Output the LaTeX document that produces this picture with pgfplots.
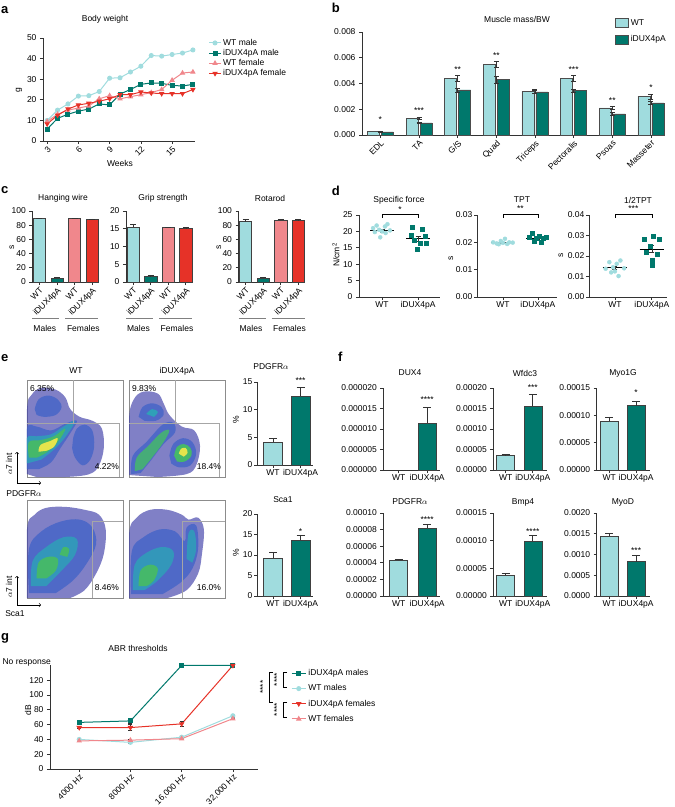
\documentclass[border=0pt]{standalone}
\usepackage{fontspec}
\setmainfont{Liberation Sans}
\usepackage{pgfplots}
\pgfplotsset{compat=1.18}

\definecolor{wtc}{HTML}{A0DCDE}
\definecolor{dxc}{HTML}{00786C}
\definecolor{wtf}{HTML}{F0878C}
\definecolor{dxf}{HTML}{E63228}
\definecolor{axc}{HTML}{333333}
\definecolor{d1}{HTML}{3C3CA8}
\definecolor{d2}{HTML}{3F62C8}
\definecolor{d3}{HTML}{2FA0B8}
\definecolor{d4}{HTML}{45B86A}
\definecolor{d5}{HTML}{E4E44C}

\newcommand{\fs}{\fontsize{8.5}{10}\selectfont}
\tikzset{star/.style={font=\fs, inner sep=0pt}}

\pgfplotsset{
  prism/.style={scale only axis, anchor=south west, clip=false,
    axis lines*=left, tick align=outside, major tick length=3pt,
    axis line style={line width=0.7pt, draw=axc},
    every tick/.style={line width=0.7pt, draw=axc},
    tick label style={font=\fs},
    /pgf/number format/assume math mode=true,
    scaled y ticks=false},
  yfix/.style={yticklabel style={/pgf/number format/fixed, /pgf/number format/fixed zerofill, /pgf/number format/precision=#1}},
  ysep/.style={yticklabel style={/tikz/inner sep=#1}},
  twobar/.style={xtick={0,1}, xticklabels={WT,iDUX4pA}, x tick label style={inner sep=1.5pt}},
  bar/.style={ybar, bar shift=0pt, bar width=#1, draw=black!75, line width=0.5pt},
  eb/.style={error bars/.cd, y dir=plus, y explicit,
    error bar style={line width=0.6pt, black!80},
    error mark options={rotate=90, mark size=#1, line width=0.6pt, black!80}},
  ebb/.style={error bars/.cd, y dir=both, y explicit,
    error bar style={line width=0.6pt, black!80},
    error mark options={rotate=90, mark size=#1, line width=0.6pt, black!80}},
  flow/.style={scale only axis, anchor=south west, xmin=0, xmax=100, ymin=0, ymax=100,
    xtick=\empty, ytick=\empty, axis line style={draw=black!45, line width=0.9pt}},
  gate/.style={draw=black!35, line width=0.6pt, mark=none},
  blob/.style={draw=none, fill=#1, mark=none, smooth, tension=0.6},
}

\begin{document}
\begin{tikzpicture}[font=\fs]
\useasboundingbox (0,0) rectangle (675pt,-807pt);

\foreach \l/\x/\y in {a/1/13, b/331.7/12.7, c/1/193.3, d/331.7/195, e/1/361.7, f/338/361.7, g/1/640.7}
  \node[anchor=base west, inner sep=0pt, font=\fontsize{13}{13}\selectfont\bfseries] at (\x pt,-\y pt) {\l};

% ---------------- a
\node at (105pt,-19pt) {Body weight};
\node[rotate=90] at (19pt,-90pt) {g};
\node at (120pt,-163pt) {Weeks};
\begin{axis}[prism, at={(43pt,-141pt)}, width=152pt, height=103pt,
  xmin=2.6, xmax=17.2, ymin=0, ymax=50, xtick={3,6,9,12,15}, ytick={0,10,...,50},
  x tick label style={rotate=45, anchor=north east, inner sep=1pt},
  legend style={at={(1.07,1.03)}, anchor=north west, draw=none, fill=none, font=\fs, row sep=-1.5pt},
  legend cell align=left,
  legend image code/.code={\draw[mark repeat=2,mark phase=2] plot coordinates {(0cm,0cm) (0.2cm,0cm) (0.4cm,0cm)};}]
\addplot[wtc, line width=1pt, mark=*, mark size=2pt] coordinates {
 (3,10) (4,15) (5,18) (6,21.8) (7,22) (8,24) (9,30.5) (10,30.7) (11,33.5) (12,36.3)
 (13,41.5) (14,41.2) (15,42) (16,42.7) (17,44.2)};
\addplot[dxc, line width=1pt, mark=square*, mark size=2pt] coordinates {
 (3,5.8) (4,11) (5,13) (6,14.5) (7,15.5) (8,18) (9,17.5) (10,22.8) (11,25) (12,27.5)
 (13,28.2) (14,28) (15,27) (16,26.7) (17,27.5)};
\addplot[wtf, line width=1pt, mark=triangle*, mark size=2.2pt] coordinates {
 (3,9.5) (4,13) (5,15) (6,16) (7,17) (8,20.5) (9,22) (10,20.5) (11,21.5) (12,22.5)
 (13,23.5) (14,25) (15,29.5) (16,33) (17,33.5)};
\addplot[dxf, line width=1pt, mark=triangle*, mark size=2.2pt, mark options={rotate=180}] coordinates {
 (3,8.3) (4,12.5) (5,15.5) (6,17.5) (7,18.3) (8,19.3) (9,20.5) (10,22.5) (11,22.5) (12,23.8)
 (13,23.3) (14,23) (15,23) (16,23) (17,25)};
\legend{WT male, iDUX4pA male, WT female, iDUX4pA female}
\end{axis}

% ---------------- b
\node at (517pt,-19pt) {Muscle mass/BW};
\begin{axis}[prism, at={(362pt,-135pt)}, width=301.3pt, height=103pt,
  xmin=-0.476, xmax=7.32, ymin=0, ymax=0.008, ytick={0,0.002,0.004,0.006,0.008}, yfix=3,
  xtick={0,...,7}, xticklabels={EDL,TA,G/S,Quad,Triceps,Pectoralis,Psoas,Masseter},
  x tick label style={rotate=45, anchor=north east, inner sep=1pt},
  legend style={at={(0.83,1.165)}, anchor=north west, draw=none, fill=none, font=\fs, row sep=5pt},
  legend cell align=left,
  legend image code/.code={\draw[#1] (0pt,-4.5pt) rectangle (13pt,4.5pt);}]
\addplot[ybar, bar shift=-7pt, bar width=12pt, fill=wtc, draw=black!70, line width=0.5pt, ebb=2.5pt] coordinates {
 (0,0.0003) +- (0,0.00002) (1,0.0013) +- (0,0.00005) (2,0.0044) +- (0,0.00025) (3,0.0055) +- (0,0.00022)
 (4,0.0034) +- (0,0.00017) (5,0.0044) +- (0,0.0002) (6,0.0021) +- (0,0.0001) (7,0.0030) +- (0,0.0002)};
\addplot[ybar, bar shift=7pt, bar width=12pt, fill=dxc, draw=black!70, line width=0.5pt, ebb=2.5pt] coordinates {
 (0,0.00025) +- (0,0.00002) (1,0.00095) +- (0,0.00004) (2,0.0035) +- (0,0.00015) (3,0.0043) +- (0,0.00025)
 (4,0.00335) +- (0,0.0001) (5,0.00345) +- (0,0.00012) (6,0.00165) +- (0,0.00013) (7,0.0025) +- (0,0.0001)};
\legend{WT, iDUX4pA}
\node[star] at (axis cs:0,0.0012) {*};
\node[star] at (axis cs:1,0.0019) {***};
\node[star] at (axis cs:2,0.0051) {**};
\node[star] at (axis cs:3,0.0062) {**};
\node[star] at (axis cs:5,0.0051) {***};
\node[star] at (axis cs:6,0.0027) {**};
\node[star] at (axis cs:7,0.0037) {*};
\end{axis}

% ---------------- c
\node at (63pt,-198pt) {Hanging wire};
\node at (163pt,-198pt) {Grip strength};
\node at (270pt,-198pt) {Rotarod};
\node[rotate=90] at (12pt,-247pt) {s};
\node[rotate=90] at (219pt,-247pt) {s};
\foreach \ox in {32.3,126,238.5}{
  \draw[black!50, line width=0.8pt] (\ox pt,-318pt) -- (\ox pt+27pt,-318pt);
  \draw[black!50, line width=0.8pt] (\ox pt+33pt,-318pt) -- (\ox pt+66pt,-318pt);
  \node at (\ox pt+12.5pt,-328pt) {Males};
  \node at (\ox pt+51pt,-328pt) {Females};
}
\pgfplotsset{cbars/.style={prism, width=66pt, height=71pt, xmin=-0.4, xmax=3.35, ymin=0,
  xtick={0,1,2,3}, xticklabels={WT,iDUX4pA,WT,iDUX4pA},
  x tick label style={rotate=45, anchor=north east, inner sep=1pt}}}
\begin{axis}[cbars, at={(32.3pt,-282pt)}, ymax=100, ytick={0,20,...,100}]
\addplot[bar=12.3pt, fill=wtc, eb=3pt] coordinates {(0,90) +- (0,0)};
\addplot[bar=12.3pt, fill=dxc, eb=3pt] coordinates {(1,5) +- (0,1.5)};
\addplot[bar=12.3pt, fill=wtf, eb=3pt] coordinates {(2,90) +- (0,0)};
\addplot[bar=12.3pt, fill=dxf, eb=3pt] coordinates {(3,88) +- (0,1)};
\end{axis}
\begin{axis}[cbars, at={(126pt,-282pt)}, ymax=20, ytick={0,5,...,20}]
\addplot[bar=12.3pt, fill=wtc, eb=3pt] coordinates {(0,15.5) +- (0,0.7)};
\addplot[bar=12.3pt, fill=dxc, eb=3pt] coordinates {(1,1.5) +- (0,0.5)};
\addplot[bar=12.3pt, fill=wtf, eb=3pt] coordinates {(2,15.3) +- (0,0.1)};
\addplot[bar=12.3pt, fill=dxf, eb=3pt] coordinates {(3,15.2) +- (0,0.1)};
\end{axis}
\begin{axis}[cbars, at={(238.5pt,-282pt)}, ymax=100, ytick={0,20,...,100}]
\addplot[bar=12.3pt, fill=wtc, eb=3pt] coordinates {(0,85) +- (0,3)};
\addplot[bar=12.3pt, fill=dxc, eb=3pt] coordinates {(1,5) +- (0,1.5)};
\addplot[bar=12.3pt, fill=wtf, eb=3pt] coordinates {(2,87.5) +- (0,1)};
\addplot[bar=12.3pt, fill=dxf, eb=3pt] coordinates {(3,86.5) +- (0,1.5)};
\end{axis}

% ---------------- d
\node at (399pt,-200pt) {Specific force};
\node at (522pt,-200pt) {TPT};
\node at (638pt,-200pt) {1/2TPT};
\node[rotate=90] at (336pt,-255pt) {N/cm\textsuperscript{2}};
\node[rotate=90] at (451pt,-258pt) {s};
\node[rotate=90] at (561pt,-255pt) {s};
\begin{axis}[prism, twobar, at={(359pt,-297pt)}, width=81pt, height=82pt,
  xmin=-0.64, xmax=1.61, ymin=0, ymax=25, ytick={0,5,...,25}]
\addplot[only marks, mark=*, mark size=2pt, wtc] coordinates {
 (-0.25,21.0) (-0.15,21.8) (-0.08,20.5) (0,20.0) (0.08,21.5) (0.15,22.2) (0.22,20.3) (-0.2,19.8) (0.1,19.5) (-0.05,18.2)};
\addplot[only marks, mark=square*, mark size=2pt, dxc] coordinates {
 (0.85,21.3) (1.12,20.8) (0.8,18.8) (1.2,18.5) (0.9,17.3) (1.05,16.3) (1.22,16.3) (0.98,14.5)};
\addplot[black, line width=0.8pt, mark=none] coordinates {(-0.33,20.2) (0.33,20.2)};
\addplot[black, line width=0.8pt, mark=none] coordinates {(0.67,17.8) (1.33,17.8)};
\addplot[mark=none, ebb=2.5pt] coordinates {(0,20.2) +- (0,0.4)};
\addplot[mark=none, ebb=2.5pt] coordinates {(1,17.8) +- (0,0.8)};
\addplot[black, line width=0.6pt, mark=none] coordinates {(0,24.2) (0,25.3) (1,25.3) (1,24.2)};
\node[star] at (axis cs:0.5,26.8) {*};
\end{axis}
\begin{axis}[prism, twobar, at={(477pt,-297pt)}, width=79.8pt, height=82pt,
  xmin=-0.74, xmax=1.54, ymin=0, ymax=0.03, ytick={0,0.01,0.02,0.03}, yfix=2, ysep=1.5pt]
\addplot[only marks, mark=*, mark size=2pt, wtc] coordinates {
 (-0.28,0.0200) (-0.18,0.0196) (-0.06,0.0205) (0.06,0.0213) (0.18,0.0200) (0.28,0.0199) (-0.12,0.0193) (0.12,0.0194) (0,0.0198)};
\addplot[only marks, mark=square*, mark size=2pt, dxc] coordinates {
 (0.75,0.0218) (0.85,0.0232) (0.95,0.0214) (1.05,0.0222) (1.15,0.0216) (1.25,0.0219) (0.9,0.0205) (1.1,0.0200)};
\addplot[black, line width=0.8pt, mark=none] coordinates {(-0.33,0.0199) (0.33,0.0199)};
\addplot[black, line width=0.8pt, mark=none] coordinates {(0.67,0.0216) (1.33,0.0216)};
\addplot[mark=none, ebb=2.5pt] coordinates {(0,0.0199) +- (0,0.0002)};
\addplot[mark=none, ebb=2.5pt] coordinates {(1,0.0216) +- (0,0.0004)};
\addplot[black, line width=0.6pt, mark=none] coordinates {(0,0.029) (0,0.0304) (1,0.0304) (1,0.029)};
\node[star] at (axis cs:0.5,0.0322) {**};
\end{axis}
\begin{axis}[prism, twobar, at={(589pt,-297pt)}, width=78pt, height=82pt,
  xmin=-0.7, xmax=1.41, ymin=0, ymax=0.04, ytick={0,0.01,0.02,0.03,0.04}, yfix=2, ysep=1.5pt]
\addplot[only marks, mark=*, mark size=2pt, wtc] coordinates {
 (-0.25,0.0138) (-0.15,0.0170) (-0.05,0.0145) (0.05,0.0162) (0.15,0.0178) (0.25,0.0140) (-0.1,0.0120) (0.1,0.0102) (0,0.0125)};
\addplot[only marks, mark=square*, mark size=2pt, dxc] coordinates {
 (0.8,0.0282) (1.05,0.0295) (1.2,0.0283) (0.95,0.0250) (0.85,0.0218) (1.15,0.0210) (1.0,0.0180) (1.0,0.0155)};
\addplot[black, line width=0.8pt, mark=none] coordinates {(-0.33,0.0142) (0.33,0.0142)};
\addplot[black, line width=0.8pt, mark=none] coordinates {(0.67,0.0233) (1.33,0.0233)};
\addplot[mark=none, ebb=2.5pt] coordinates {(0,0.0142) +- (0,0.0009)};
\addplot[mark=none, ebb=2.5pt] coordinates {(1,0.0233) +- (0,0.0017)};
\addplot[black, line width=0.6pt, mark=none] coordinates {(0,0.0387) (0,0.0405) (1,0.0405) (1,0.0387)};
\node[star] at (axis cs:0.5,0.0429) {***};
\end{axis}

% ---------------- e (flow)
\node at (76pt,-371pt) {WT};
\node at (177pt,-371pt) {iDUX4pA};
\draw[->, line width=0.6pt] (17pt,-483pt) -- (17pt,-452pt);
\draw[->, line width=0.6pt] (17pt,-483pt) -- (41pt,-483pt);
\node[rotate=90] at (9pt,-464pt) {$\alpha$7 int};
\node at (24pt,-494pt) {PDGFR$\alpha$};
\draw[->, line width=0.6pt] (17pt,-605pt) -- (17pt,-576pt);
\draw[->, line width=0.6pt] (17pt,-605pt) -- (41pt,-605pt);
\node[rotate=90] at (9pt,-587pt) {$\alpha$7 int};
\node at (15pt,-614pt) {Sca1};

\begin{axis}[flow, at={(27pt,-477pt)}, width=96pt, height=97pt]
\addplot[blob=d1, fill opacity=0.65] coordinates {(0,3) (0,70) (5,85) (15,92) (30,90) (40,82) (45,70) (55,62) (68,58) (78,50) (80,30) (75,12) (65,3) (40,0) (10,0)} -- cycle;
\addplot[blob=d2, fill opacity=0.75] coordinates {(8,70) (12,80) (22,84) (32,80) (36,72) (30,64) (18,62) (10,64)} -- cycle;
\addplot[blob=d2, fill opacity=0.75] coordinates {(48,40) (52,50) (60,54) (68,48) (70,32) (66,18) (58,12) (50,20) (47,30)} -- cycle;
\addplot[blob=d2, fill opacity=0.75] coordinates {(0,8) (0,50) (10,52) (25,48) (40,55) (52,58) (45,45) (35,30) (25,15) (12,8)} -- cycle;
\addplot[blob=d3, fill opacity=0.85] coordinates {(0,14) (0,40) (10,42) (25,44) (38,52) (50,58) (42,44) (30,30) (15,18)} -- cycle;
\addplot[blob=d4] coordinates {(2,20) (2,36) (14,38) (28,42) (40,50) (32,36) (20,25) (10,20)} -- cycle;
\addplot[blob=d5] coordinates {(12,26) (14,33) (24,37) (32,40) (28,31) (20,27)} -- cycle;
\addplot[gate] coordinates {(0,55) (48,55) (48,100)};
\addplot[gate] coordinates {(48,55) (96,55) (96,0)};
\node[anchor=west, inner sep=0pt] at (axis cs:3,91) {6.35\%};
\node[anchor=east, inner sep=0pt] at (axis cs:96,11) {4.22\%};
\end{axis}
\begin{axis}[flow, at={(129pt,-477pt)}, width=96pt, height=97pt]
\addplot[blob=d1, fill opacity=0.65] coordinates {(0,2) (0,60) (5,80) (15,88) (30,86) (36,76) (42,64) (55,52) (68,48) (74,32) (70,12) (60,3) (30,0)} -- cycle;
\addplot[blob=d2, fill opacity=0.75] coordinates {(10,62) (14,72) (24,76) (34,72) (36,64) (28,58) (16,58)} -- cycle;
\addplot[blob=d3] coordinates {(18,65) (24,70) (30,67) (26,62)} -- cycle;
\addplot[blob=d2, fill opacity=0.75] coordinates {(2,3) (4,22) (18,36) (35,54) (46,56) (48,46) (36,34) (22,16) (12,4)} -- cycle;
\addplot[blob=d4, fill opacity=0.85] coordinates {(6,6) (8,20) (20,32) (34,46) (42,48) (36,36) (24,20) (14,8)} -- cycle;
\addplot[blob=d2, fill opacity=0.75] coordinates {(42,22) (46,34) (56,40) (66,36) (70,24) (64,12) (52,10) (44,14)} -- cycle;
\addplot[blob=d4] coordinates {(47,22) (50,31) (57,34) (64,30) (65,22) (58,16) (50,16)} -- cycle;
\addplot[blob=d5] coordinates {(52,24) (54,29) (59,30) (61,25) (57,21)} -- cycle;
\addplot[gate] coordinates {(0,55) (48,55) (48,100)};
\addplot[gate] coordinates {(48,55) (94,55) (94,0)};
\node[anchor=west, inner sep=0pt] at (axis cs:3,91) {9.83\%};
\node[anchor=east, inner sep=0pt] at (axis cs:96,11) {18.4\%};
\end{axis}
\begin{axis}[flow, at={(27pt,-598pt)}, width=96pt, height=98pt]
\addplot[blob=d1, fill opacity=0.65] coordinates {(0,0) (0,70) (8,85) (20,92) (40,93) (60,90) (75,85) (82,70) (80,45) (72,25) (60,8) (45,0)} -- cycle;
\addplot[blob=d2, fill opacity=0.75] coordinates {(2,5) (2,50) (15,68) (35,78) (55,80) (68,72) (72,55) (62,35) (48,18) (30,5)} -- cycle;
\addplot[blob=d3, fill opacity=0.85] coordinates {(4,12) (6,38) (20,52) (38,62) (52,60) (50,44) (36,28) (20,12)} -- cycle;
\addplot[blob=d4] coordinates {(10,20) (12,36) (22,42) (32,40) (30,28) (20,20)} -- cycle;
\addplot[blob=d4] coordinates {(34,44) (38,52) (44,50) (42,42)} -- cycle;
\addplot[gate] coordinates {(68,0) (68,78) (100,78)};
\node[anchor=east, inner sep=0pt] at (axis cs:96,11) {8.46\%};
\end{axis}
\begin{axis}[flow, at={(129pt,-598pt)}, width=96pt, height=98pt]
\addplot[blob=d1, fill opacity=0.65] coordinates {(0,0) (0,65) (8,82) (22,90) (40,90) (55,85) (62,80) (72,82) (78,70) (76,45) (72,25) (60,8) (40,0)} -- cycle;
\addplot[blob=d2, fill opacity=0.75] coordinates {(2,4) (3,48) (15,62) (32,70) (48,68) (58,58) (60,72) (70,74) (72,50) (66,30) (54,16) (35,4)} -- cycle;
\addplot[blob=d3, fill opacity=0.85] coordinates {(4,8) (6,34) (18,46) (34,52) (46,48) (44,34) (30,18) (16,8)} -- cycle;
\addplot[blob=d3, fill opacity=0.85] coordinates {(60,40) (62,66) (68,68) (70,50) (66,36)} -- cycle;
\addplot[blob=d4] coordinates {(10,12) (12,28) (22,34) (30,30) (26,18) (18,12)} -- cycle;
\addplot[gate] coordinates {(55,0) (55,78) (100,78)};
\node[anchor=east, inner sep=0pt] at (axis cs:96,11) {16.0\%};
\end{axis}

% ---------------- e (bars)
\node at (271pt,-367pt) {PDGFR$\alpha$};
\node at (283pt,-500pt) {Sca1};
\node[rotate=90] at (236pt,-420pt) {\%};
\node[rotate=90] at (236pt,-553pt) {\%};
\begin{axis}[prism, twobar, at={(257pt,-465pt)}, width=56pt, height=83pt,
  xmin=-0.58, xmax=1.45, ymin=0, ymax=15, ytick={0,5,10,15}, ysep=1.5pt]
\addplot[bar=19pt, fill=wtc, eb=4pt] coordinates {(0,4.2) +- (0,0.6)};
\addplot[bar=19pt, fill=dxc, eb=4pt] coordinates {(1,12.5) +- (0,1.5)};
\node[star] at (axis cs:1,15.2) {***};
\end{axis}
\begin{axis}[prism, twobar, at={(257pt,-596pt)}, width=56pt, height=82pt,
  xmin=-0.58, xmax=1.45, ymin=0, ymax=20, ytick={0,5,...,20}, ysep=1.5pt]
\addplot[bar=19pt, fill=wtc, eb=4pt] coordinates {(0,9.3) +- (0,1.4)};
\addplot[bar=19pt, fill=dxc, eb=4pt] coordinates {(1,13.7) +- (0,1.2)};
\node[star] at (axis cs:1,15.6) {*};
\end{axis}

% ---------------- f
\node at (410pt,-373pt) {DUX4};
\node at (525pt,-373pt) {Wfdc3};
\node at (623pt,-373pt) {Myo1G};
\node at (410pt,-502pt) {PDGFR$\alpha$};
\node at (523pt,-502pt) {Bmp4};
\node at (623pt,-502pt) {MyoD};
\begin{axis}[prism, twobar, at={(383.3pt,-470pt)}, width=57pt, height=82pt,
  xmin=-0.54, xmax=1.46, ymin=0, ymax=0.00002, ytick={0,0.000005,0.00001,0.000015,0.00002}, yfix=6]
\addplot[bar=18pt, fill=dxc, eb=4pt] coordinates {(1,0.0000115) +- (0,0.0000038)};
\node[star] at (axis cs:1,0.0000171) {****};
\end{axis}
\begin{axis}[prism, twobar, at={(493.3pt,-470pt)}, width=53.5pt, height=82pt,
  xmin=-0.46, xmax=1.52, ymin=0, ymax=0.0002, ytick={0,0.00005,0.0001,0.00015,0.0002}, yfix=5]
\addplot[bar=18pt, fill=wtc, eb=4pt] coordinates {(0,0.000035) +- (0,0.000003)};
\addplot[bar=18pt, fill=dxc, eb=4pt] coordinates {(1,0.000155) +- (0,0.00003)};
\node[star] at (axis cs:1,0.000202) {***};
\end{axis}
\begin{axis}[prism, twobar, at={(596.7pt,-470pt)}, width=53.5pt, height=82pt,
  xmin=-0.46, xmax=1.52, ymin=0, ymax=0.00015, ytick={0,0.00005,0.0001,0.00015}, yfix=5]
\addplot[bar=18pt, fill=wtc, eb=4pt] coordinates {(0,0.00009) +- (0,0.000007)};
\addplot[bar=18pt, fill=dxc, eb=4pt] coordinates {(1,0.000118) +- (0,0.000007)};
\node[star] at (axis cs:1,0.000141) {*};
\end{axis}
\begin{axis}[prism, twobar, at={(383.3pt,-596pt)}, width=57pt, height=83pt,
  xmin=-0.54, xmax=1.46, ymin=0, ymax=0.0001, ytick={0,0.00002,0.00004,0.00006,0.00008,0.0001}, yfix=5]
\addplot[bar=18pt, fill=wtc, eb=4pt] coordinates {(0,0.000043) +- (0,0.000001)};
\addplot[bar=18pt, fill=dxc, eb=4pt] coordinates {(1,0.000082) +- (0,0.000004)};
\node[star] at (axis cs:1,0.0000915) {****};
\end{axis}
\begin{axis}[prism, twobar, at={(493.3pt,-596pt)}, width=53.5pt, height=83pt,
  xmin=-0.46, xmax=1.52, ymin=0, ymax=0.00015, ytick={0,0.00005,0.0001,0.00015}, yfix=5]
\addplot[bar=18pt, fill=wtc, eb=4pt] coordinates {(0,0.000038) +- (0,0.000003)};
\addplot[bar=18pt, fill=dxc, eb=4pt] coordinates {(1,0.000099) +- (0,0.000011)};
\node[star] at (axis cs:1,0.000116) {****};
\end{axis}
\begin{axis}[prism, twobar, at={(596.7pt,-596pt)}, width=53.5pt, height=83pt,
  xmin=-0.46, xmax=1.52, ymin=0, ymax=0.002, ytick={0,0.0005,0.001,0.0015,0.002}, yfix=4]
\addplot[bar=18pt, fill=wtc, eb=4pt] coordinates {(0,0.00144) +- (0,0.00007)};
\addplot[bar=18pt, fill=dxc, eb=4pt] coordinates {(1,0.00083) +- (0,0.00014)};
\node[star] at (axis cs:1,0.0011) {***};
\end{axis}

% ---------------- g
\node at (138pt,-648pt) {ABR thresholds};
\node[anchor=east, inner sep=0pt] at (51pt,-662pt) {No response};
\node[rotate=90] at (28pt,-710pt) {dB};
\begin{axis}[prism, at={(50pt,-769pt)}, width=208pt, height=103.6pt,
  xmin=-0.57, xmax=3.49, ymin=0, ymax=140, ytick={0,20,...,120},
  xtick={0,1,2,3}, xticklabels={4000 Hz,8000 Hz,{16,000 Hz},{32,000 Hz}},
  x tick label style={rotate=45, anchor=north east, inner sep=1pt},
  legend style={at={(1.144,1.0)}, anchor=north west, draw=none, fill=none, font=\fs, row sep=3.5pt},
  legend cell align=left,
  legend image code/.code={\draw[mark repeat=2,mark phase=2] plot coordinates {(0cm,0cm) (0.25cm,0cm) (0.5cm,0cm)};}]
\addplot[dxc, line width=1pt, mark=square*, mark size=2pt, ebb=2pt] coordinates {
 (0,63) +- (0,1.5) (1,65) +- (0,3) (2,140) +- (0,0) (3,140) +- (0,0)};
\addplot[wtc, line width=1pt, mark=*, mark size=2pt, ebb=2pt] coordinates {
 (0,40) +- (0,1) (1,36) +- (0,1) (2,43) +- (0,1) (3,72) +- (0,1.5)};
\addplot[dxf, line width=1pt, mark=triangle*, mark size=2.2pt, mark options={rotate=180}, ebb=2pt] coordinates {
 (0,56) +- (0,1.5) (1,56) +- (0,4) (2,61) +- (0,3) (3,140) +- (0,0)};
\addplot[wtf, line width=1pt, mark=triangle*, mark size=2.2pt, ebb=2pt] coordinates {
 (0,38) +- (0,1) (1,39) +- (0,1) (2,41) +- (0,1) (3,68) +- (0,1)};
\legend{iDUX4pA males, WT males, iDUX4pA females, WT females}
\end{axis}
\draw[line width=0.7pt] (273pt,-672pt) -- (269pt,-672pt) -- (269pt,-702pt) -- (273pt,-702pt);
\draw[line width=0.7pt] (287pt,-672pt) -- (283pt,-672pt) -- (283pt,-687pt) -- (287pt,-687pt);
\draw[line width=0.7pt] (287pt,-702pt) -- (283pt,-702pt) -- (283pt,-717pt) -- (287pt,-717pt);
\node[rotate=90, star] at (263pt,-687pt) {****};
\node[rotate=90, star] at (277pt,-679.5pt) {****};
\node[rotate=90, star] at (277pt,-709.5pt) {****};
\end{tikzpicture}
\end{document}
